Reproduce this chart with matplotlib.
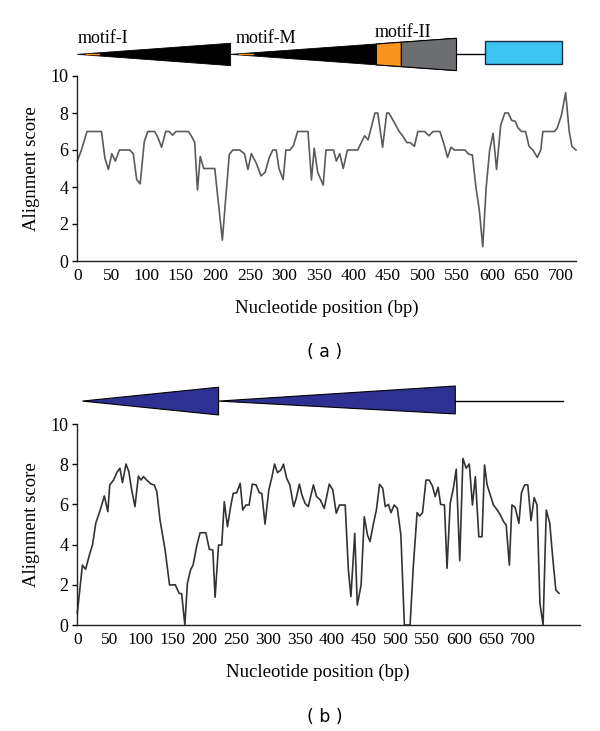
import matplotlib
matplotlib.use("Agg")
import matplotlib.pyplot as plt
from matplotlib.patches import Polygon, Rectangle

# ---------------- data ----------------
pos_a = [0, 6, 14, 35, 40, 45, 50, 55, 61, 76, 81, 86, 91, 97, 102, 112, 117, 122, 128, 133,
         138, 143, 161, 166, 170, 174, 178, 183, 199, 210, 220, 225, 235, 242, 247, 252, 259,
         266, 272, 278, 283, 288, 292, 298, 302, 308, 313, 319, 334, 339, 343, 348, 356, 360,
         371, 375, 380, 385, 391, 406, 416, 421, 431, 435, 442, 448, 451, 458, 466, 471, 477,
         482, 488, 493, 503, 509, 515, 525, 531, 536, 541, 546, 561, 567, 572, 577, 582, 587,
         592, 597, 602, 607, 613, 619, 624, 629, 634, 638, 643, 649, 654, 660, 666, 671, 674,
         691, 695, 701, 707, 712, 716, 722]
score_a = [5.4, 6.0, 7.0, 7.0, 5.55, 4.95, 5.8, 5.4, 6.0, 6.0, 5.8, 4.4, 4.17, 6.45, 7.0, 7.0,
           6.65, 6.15, 7.0, 7.0, 6.8, 7.0, 7.0, 6.7, 6.4, 3.84, 5.65, 5.0, 5.0, 1.13, 5.75, 6.0,
           6.0, 5.8, 4.95, 5.8, 5.3, 4.6, 4.8, 5.6, 6.0, 6.0, 5.0, 4.4, 6.0, 6.0, 6.25, 7.0, 7.0,
           4.38, 6.1, 4.8, 4.1, 6.0, 6.0, 5.4, 5.8, 5.0, 6.0, 6.0, 6.77, 6.55, 8.0, 8.0, 6.15,
           8.0, 8.0, 7.55, 7.0, 6.77, 6.4, 6.4, 6.2, 7.0, 7.0, 6.77, 7.0, 7.0, 6.3, 5.6, 6.15,
           6.0, 6.0, 5.77, 5.73, 4.02, 2.76, 0.77, 4.0, 6.0, 6.9, 4.95, 7.35, 8.0, 8.0, 7.6,
           7.55, 7.2, 7.0, 7.0, 6.2, 5.98, 5.6, 6.0, 7.0, 7.0, 7.2, 7.9, 9.1, 7.06, 6.2, 6.0]

pos_b = [0, 8, 13, 19, 24, 29, 36, 42.5, 48, 51, 57, 62, 67, 71, 76.5, 81, 85, 90.6, 96, 100,
         104, 110, 116, 121, 125, 130, 138, 145, 154, 160, 164, 169, 173, 178, 182, 188, 193,
         202, 207.5, 213, 216.5, 222, 227, 231, 236, 241, 245, 250.5, 256, 260, 265, 270, 275,
         281, 286, 290, 295, 301, 306, 310, 314.5, 320, 324, 329, 334, 340, 344, 349, 353, 358,
         363, 371, 376, 382, 388, 396, 401.5, 407, 412, 421, 426, 430, 436, 440, 446, 451, 456,
         460, 465.5, 470, 475, 480, 484, 489, 493, 498, 503, 508.5, 514, 523, 528, 534, 538,
         542.5, 548, 553, 558, 562.5, 567, 571, 577, 581, 586, 591, 595.5, 601, 606, 611, 616,
         621, 625.5, 631, 636, 640, 644, 649, 654, 660, 665, 670, 674, 679, 683, 688, 694, 698,
         703, 708, 713, 718, 722.5, 727, 732, 737, 742.5, 747, 752, 757]
score_b = [0.58, 2.98, 2.77, 3.48, 4.0, 5.06, 5.72, 6.42, 5.64, 6.97, 7.21, 7.58, 7.8, 7.08,
           8.01, 7.63, 6.8, 5.89, 7.41, 7.21, 7.38, 7.18, 7.01, 6.97, 6.63, 5.22, 3.73, 1.99,
           2.0, 1.58, 1.55, 0.0, 2.07, 2.74, 2.99, 3.98, 4.59, 4.59, 3.77, 3.73, 1.38, 3.98,
           3.98, 6.13, 4.89, 5.89, 6.55, 6.58, 7.05, 5.72, 5.97, 5.97, 7.01, 6.97, 6.58, 6.55,
           5.02, 6.72, 7.38, 8.01, 7.58, 7.71, 8.0, 7.3, 6.97, 5.89, 6.3, 7.01, 6.47, 6.05, 5.89,
           6.97, 6.39, 6.22, 5.8, 7.01, 6.72, 5.56, 5.97, 5.97, 2.74, 1.41, 4.56, 0.99, 1.99,
           5.39, 4.48, 4.15, 5.06, 5.72, 7.0, 6.8, 5.89, 6.0, 5.59, 5.97, 5.8, 4.48, 0.0, 0.0,
           2.9, 5.59, 5.42, 5.59, 7.21, 7.21, 6.92, 6.39, 6.85, 6.0, 5.97, 2.82, 6.05, 6.8, 7.75,
           3.2, 8.29, 7.8, 8.01, 5.97, 7.38, 4.39, 4.39, 7.96, 6.97, 6.47, 5.97, 5.72, 5.47,
           5.14, 4.98, 2.98, 5.97, 5.86, 5.06, 6.58, 6.97, 6.97, 5.19, 6.34, 5.97, 1.08, 0.0,
           5.72, 5.06, 3.4, 1.74, 1.58]

x_ticks = list(range(0, 701, 50))
y_ticks = [0, 2, 4, 6, 8, 10]

# gene diagram features (bp)
motif_names = ["motif-I", "motif-M", "motif-II"]
motif_label_pos = [1, 230, 431]
a_seg1 = (0, 222)          # motif-I wedge
a_seg2 = (222, 549)        # motif-M / motif-II wedge
a_orange = (433, 469)
a_line = (549, 590)
a_rect = (590, 702)
b_wedge1 = (8, 222)
b_wedge2 = (222, 594)
b_line = (594, 764)

SERIF = ["Liberation Serif", "DejaVu Serif"]
W, H = 600, 731
fig = plt.figure(figsize=(W / 100, H / 100), dpi=100)


def fx(px):
    return px / W


def fy(py):
    return 1 - py / H


def style_axes(ax, xmax):
    ax.set_xlim(0, xmax)
    ax.set_ylim(0, 10)
    for s in ["top", "right"]:
        ax.spines[s].set_visible(False)
    for s in ["left", "bottom"]:
        ax.spines[s].set_linewidth(1.0)
        ax.spines[s].set_color("#222222")
    ax.set_xticks(x_ticks)
    ax.set_yticks(y_ticks)
    ax.tick_params(axis="x", length=0, pad=5, labelsize=12.5)
    ax.tick_params(axis="y", length=3.5, width=1.0, pad=3, labelsize=13)
    for lab in ax.get_xticklabels() + ax.get_yticklabels():
        lab.set_family(SERIF)


def wedge_y(x, x0, x1, yt, yb, ytip):
    f = (x - x0) / (x1 - x0)
    return ytip + (yt - ytip) * f, ytip + (yb - ytip) * f


# ---------------- panel a ----------------
axa = fig.add_axes([fx(77.3), fy(261), fx(576) - fx(77.3), (261 - 76) / H])
axa.plot(pos_a, score_a, color="#5a5a5a", lw=1.2, clip_on=False)
style_axes(axa, 722)

# diagram a
tip_y, top1, bot1 = 11.17, 11.77, 10.56
top2, bot2 = 12.04, 10.29
axa.add_patch(Polygon([(a_seg1[0], tip_y), (a_seg1[1], top1), (a_seg1[1], bot1)],
                      closed=True, fc="black", ec="black", lw=0.6, clip_on=False))
axa.add_patch(Polygon([(a_seg2[0], tip_y), (a_seg2[1], top2), (a_seg2[1], bot2)],
                      closed=True, fc="black", ec="black", lw=0.6, clip_on=False))
gt0, gb0 = wedge_y(a_orange[1], a_seg2[0], a_seg2[1], top2, bot2, tip_y)
axa.add_patch(Polygon([(a_orange[1], gt0), (a_seg2[1], top2), (a_seg2[1], bot2), (a_orange[1], gb0)],
                      closed=True, fc="#6d6e71", ec="black", lw=0.8, clip_on=False))
ot0, ob0 = wedge_y(a_orange[0], a_seg2[0], a_seg2[1], top2, bot2, tip_y)
axa.add_patch(Polygon([(a_orange[0], ot0), (a_orange[1], gt0), (a_orange[1], gb0), (a_orange[0], ob0)],
                      closed=True, fc="#f7941d", ec="black", lw=0.8, clip_on=False))
for x0 in (a_seg1[0] + 12, a_seg2[0] + 12):
    axa.plot([x0, x0 + 20], [tip_y, tip_y], color="#f7941d", lw=1.0, clip_on=False)
axa.plot(a_line, [tip_y, tip_y], color="black", lw=1.0, clip_on=False)
axa.add_patch(Rectangle((a_rect[0], 10.63), a_rect[1] - a_rect[0], 11.91 - 10.63,
                        fc="#3cc3f0", ec="#1a2a40", lw=1.0, clip_on=False))
label_y = [11.78, 11.78, 12.12]
for name, xp, yv in zip(motif_names, motif_label_pos, label_y):
    axa.text(xp, yv, name, family=SERIF, fontsize=13, ha="left", va="baseline",
             clip_on=False)

# ---------------- panel b ----------------
axb = fig.add_axes([fx(77.3), fy(625), fx(580) - fx(77.3), (625 - 424) / H])
axb.plot(pos_b, score_b, color="#333333", lw=1.2, clip_on=False)
style_axes(axb, 790)

btip = 11.14
axb.add_patch(Polygon([(b_wedge1[0], btip), (b_wedge1[1], 11.83), (b_wedge1[1], 10.45)],
                      closed=True, fc="#2e3192", ec="black", lw=0.8, clip_on=False))
axb.add_patch(Polygon([(b_wedge2[0], btip), (b_wedge2[1], 11.89), (b_wedge2[1], 10.50)],
                      closed=True, fc="#2e3192", ec="black", lw=0.8, clip_on=False))
axb.plot(b_line, [btip, btip], color="black", lw=1.0, clip_on=False)

# ---------------- labels ----------------
for yc in (168.5, 524.5):
    fig.text(fx(32), fy(yc), "Alignment score", family=SERIF, fontsize=13.5,
             rotation=90, ha="center", va="center")
fig.text(fx(327), fy(308), "Nucleotide position (bp)", family=SERIF, fontsize=13.5,
         ha="center", va="center")
fig.text(fx(318), fy(672), "Nucleotide position (bp)", family=SERIF, fontsize=13.5,
         ha="center", va="center")
fig.text(fx(325), fy(352), "( a )", family=["DejaVu Sans"], fontsize=12.5,
         ha="center", va="center")
fig.text(fx(325), fy(717), "( b )", family=["DejaVu Sans"], fontsize=12.5,
         ha="center", va="center")

fig.savefig("out.png", dpi=100)
